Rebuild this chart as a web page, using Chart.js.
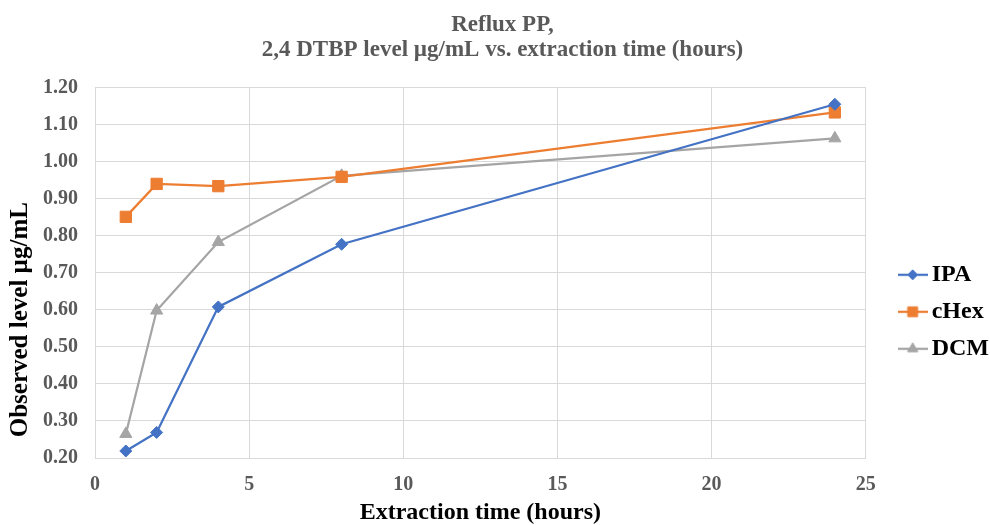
<!DOCTYPE html>
<html>
<head>
<meta charset="utf-8">
<script src="https://cdn.jsdelivr.net/npm/chart.js@4"></script>
<style>
  html, body { margin: 0; padding: 0; background: #fff; }
  #wrap { width: 990px; height: 525px; }
</style>
</head>
<body>
<div id="wrap"><canvas id="chart" width="990" height="525"></canvas></div>
<script>
// Extraction times (hours)
const hours = [1, 2, 4, 8, 24];

// Observed level, ug/mL
const ipaValues  = [0.219, 0.269, 0.608, 0.777, 1.155];
const cHexValues = [0.851, 0.940, 0.934, 0.959, 1.133];
const dcmValues  = [0.265, 0.598, 0.783, 0.962, 1.063];

const seriesNames = ['IPA', 'cHex', 'DCM'];
const seriesColors = ['#4472C4', '#ED7D31', '#A5A5A5'];
const seriesMarkers = ['rectRot', 'rect', 'triangle'];
const markerSizes = [6, 8, 7];

const serif = "'Liberation Serif', 'Times New Roman', serif";

function toPoints(values) {
    return hours.map((h, i) => ({ x: h, y: values[i] }));
}

// Small line + marker icon for the legend, like Excel does
function legendIcon(i) {
    const c = document.createElement('canvas');
    c.width = 30;
    c.height = 18;
    const ctx = c.getContext('2d');
    ctx.strokeStyle = seriesColors[i];
    ctx.lineWidth = 2.25;
    ctx.beginPath();
    ctx.moveTo(0, 9);
    ctx.lineTo(30, 9);
    ctx.stroke();
    ctx.fillStyle = seriesColors[i];
    ctx.lineWidth = 1;
    Chart.helpers.drawPoint(ctx, {
        pointStyle: seriesMarkers[i],
        radius: markerSizes[i] - 1,
        borderWidth: 1,
        rotation: 0
    }, 15, 9);
    return c;
}

const allValues = [ipaValues, cHexValues, dcmValues];

const datasets = allValues.map((vals, i) => ({
    label: seriesNames[i],
    data: toPoints(vals),
    borderColor: seriesColors[i],
    backgroundColor: seriesColors[i],
    borderWidth: 2.25,
    pointStyle: seriesMarkers[i],
    pointRadius: markerSizes[i],
    pointHoverRadius: markerSizes[i],
    pointBorderWidth: 1,
    showLine: true,
    tension: 0
}));

new Chart(document.getElementById('chart'), {
    type: 'scatter',
    data: { datasets },
    options: {
        responsive: false,
        animation: false,
        layout: { padding: { left: 6, right: -9, top: 4, bottom: 0 } },
        scales: {
            x: {
                type: 'linear',
                min: 0,
                max: 25,
                afterFit: s => { s.height = 67; },
                ticks: {
                    stepSize: 5,
                    color: '#595959',
                    padding: 15,
                    font: { family: serif, size: 20, weight: 'bold' }
                },
                grid: { color: '#D9D9D9', lineWidth: 1, drawTicks: false },
                border: { color: '#D9D9D9' },
                title: {
                    display: true,
                    text: 'Extraction time (hours)',
                    color: '#000',
                    padding: { top: 0, bottom: -2 },
                    font: { family: serif, size: 24, weight: 'bold' }
                }
            },
            y: {
                min: 0.2,
                max: 1.2,
                afterFit: s => { s.width = 89; },
                ticks: {
                    stepSize: 0.1,
                    color: '#595959',
                    padding: 17,
                    font: { family: serif, size: 20, weight: 'bold' },
                    callback: v => v.toFixed(2)
                },
                grid: { color: '#D9D9D9', lineWidth: 1, drawTicks: false },
                border: { color: '#D9D9D9' },
                title: {
                    display: true,
                    // trailing spaces push the title down, as Excel placed it
                    text: 'Observed level µg/mL' + '\u00A0'.repeat(15),
                    color: '#000',
                    padding: 0,
                    font: { family: serif, size: 25, weight: 'bold' }
                }
            },
            // empty spacer between plot area and legend
            gap: {
                position: 'right',
                afterFit: s => { s.width = 27; },
                ticks: { display: false },
                grid: { display: false },
                border: { display: false }
            }
        },
        plugins: {
            title: {
                display: true,
                text: ['Reflux PP,', '2,4 DTBP level µg/mL vs. extraction time (hours)'],
                color: '#595959',
                padding: { top: 8, bottom: 25 },
                font: { family: serif, size: 23, weight: 'bold', lineHeight: 1.1 }
            },
            legend: {
                position: 'right',
                fullSize: false,
                title: {
                    display: true,
                    text: ' ',
                    padding: { top: 33, bottom: 33 },
                    font: { size: 10 }
                },
                labels: {
                    usePointStyle: true,
                    pointStyleWidth: 14,
                    color: '#000',
                    padding: 13,
                    font: { family: serif, size: 24, weight: 'bold' },
                    generateLabels(chart) {
                        const items = Chart.defaults.plugins.legend.labels.generateLabels(chart);
                        return items.map((it, i) => Object.assign(it, { pointStyle: legendIcon(i) }));
                    }
                }
            },
            tooltip: { enabled: false }
        }
    }
});
</script>
</body>
</html>
